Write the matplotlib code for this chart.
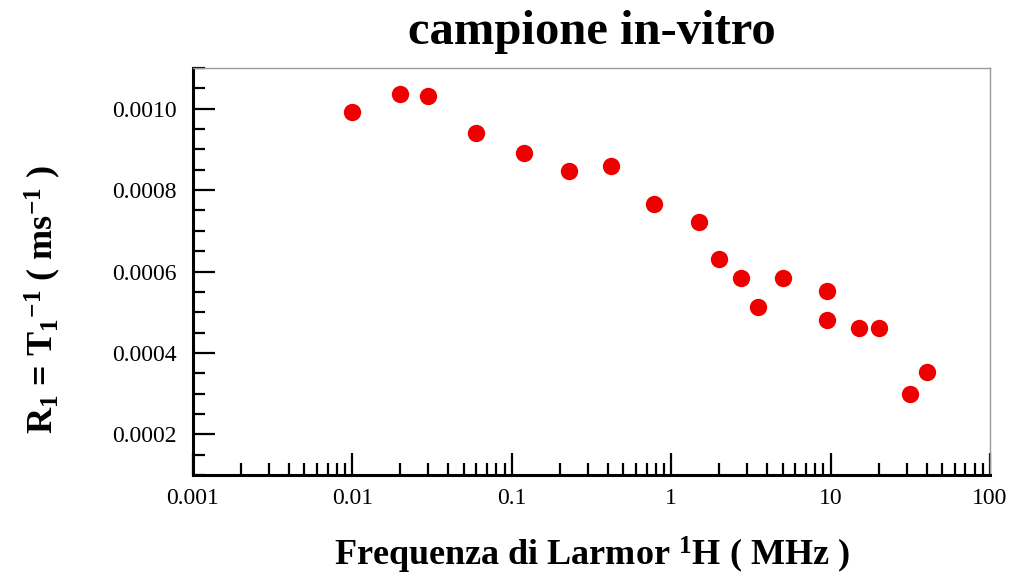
import numpy as np
import matplotlib
matplotlib.use("Agg")
import matplotlib.pyplot as plt
from matplotlib.ticker import FixedLocator, MultipleLocator, LogLocator, NullFormatter

plt.rcParams['font.family'] = ['Liberation Serif', 'DejaVu Serif']
plt.rcParams['mathtext.fontset'] = 'custom'
plt.rcParams['mathtext.rm'] = 'Liberation Serif:bold'
plt.rcParams['mathtext.bf'] = 'Liberation Serif:bold'
plt.rcParams['mathtext.default'] = 'rm'

# frequenza (MHz) e velocita' di rilassamento R1 (1/ms)
freq = [0.01, 0.02, 0.03, 0.06, 0.12, 0.23, 0.42, 0.78, 1.5, 2.0, 2.74,
        3.5, 5.0, 9.5, 9.5, 15, 20, 31.6, 40]
R1 = [0.000992, 0.001035, 0.001030, 0.000940, 0.000891, 0.000847, 0.000859,
      0.000766, 0.000722, 0.000631, 0.000583, 0.000513, 0.000584, 0.000553,
      0.000482, 0.000462, 0.000462, 0.000300, 0.000354]

xticks = [0.001, 0.01, 0.1, 1, 10, 100]
xticklabels = ['0.001', '0.01', '0.1', '1', '10', '100']
yticks = [0.0002, 0.0004, 0.0006, 0.0008, 0.0010]
yticklabels = ['0.0002', '0.0004', '0.0006', '0.0008', '0.0010']

fig = plt.figure(figsize=(10.17, 5.83), dpi=100)
ax = fig.add_axes([0.1898, 0.1852, 0.7837, 0.6982])

ax.plot(freq, R1, 'o', color='#ee0000', markersize=12.5, markeredgewidth=0)

ax.set_xscale('log')
ax.set_xlim(0.001, 100)
ax.set_ylim(0.0001, 0.0011)

ax.xaxis.set_major_locator(FixedLocator(xticks))
ax.set_xticklabels(xticklabels)
ax.xaxis.set_minor_locator(LogLocator(base=10, subs=np.arange(2, 10), numticks=20))
ax.xaxis.set_minor_formatter(NullFormatter())
ax.yaxis.set_major_locator(FixedLocator(yticks))
ax.set_yticklabels(yticklabels)
ax.yaxis.set_minor_locator(MultipleLocator(0.00005))

ax.tick_params(which='both', direction='in', top=False, right=False,
               labelsize=17, color='black', width=1.6)
ax.tick_params(which='major', length=16, pad=12)
ax.tick_params(which='minor', length=8.5)
ax.tick_params(axis='x', which='major', pad=9)

for s in ['left', 'bottom']:
    ax.spines[s].set_linewidth(2.2)
    ax.spines[s].set_color('black')
for s in ['top', 'right']:
    ax.spines[s].set_linewidth(1.0)
    ax.spines[s].set_color('#999999')

ax.set_title('campione in-vitro', fontsize=35, fontweight='bold', pad=17)
ax.set_xlabel(r'Frequenza di Larmor $^{1}$H ( MHz )', fontsize=26,
              fontweight='bold', labelpad=19)
ax.set_ylabel(r'R$_{1}$ = T$_{1}$$^{-1}$ ( ms$^{-1}$ )', fontsize=26,
              fontweight='bold')
ax.yaxis.set_label_coords(-0.1635, 0.43)

plt.savefig('out.png', dpi=100)
